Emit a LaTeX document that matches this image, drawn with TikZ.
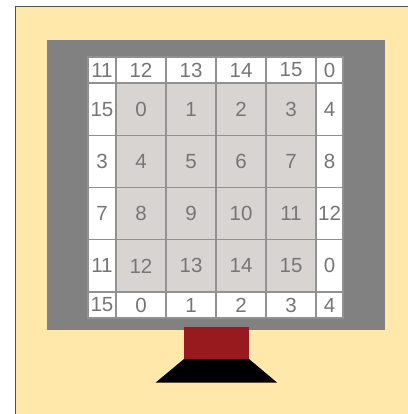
\documentclass[tikz,border=0pt]{standalone}
\usepackage{fontspec}
\setmainfont{Liberation Sans}
\definecolor{bgyellow}{RGB}{255,232,170}
\definecolor{framegray}{RGB}{128,129,128}
\definecolor{cellgray}{RGB}{216,212,210}
\definecolor{gridline}{RGB}{145,145,145}
\definecolor{digit}{RGB}{118,118,118}
\definecolor{standred}{RGB}{152,26,30}
\definecolor{edgegray}{RGB}{80,80,80}
\begin{document}
\begin{tikzpicture}[x=1pt,y=-1pt,
  cellbox/.style={draw=gridline, line width=1.2pt, inner sep=0pt, text=digit,
    font=\fontsize{20.5}{21}\selectfont},
  innercell/.style={cellbox, fill=cellgray},
  outercell/.style={cellbox, fill=white}]
\useasboundingbox (0,0) rectangle (407,414);
\fill[white] (0,0) rectangle (407,414);
\fill[bgyellow] (15,7) rectangle (410,417);
\draw[edgegray, line width=1pt] (15,416) -- (15,7) -- (409,7);
\fill[framegray] (47,40) rectangle (385,330);
\def\xs{{88,116,166,216,266,316,343}}
\def\ys{{57,83,135.25,187.5,239.75,292,318}}
\foreach \r in {0,...,5}{
  \foreach \c in {0,...,5}{
    \pgfmathsetmacro\xa{\xs[\c]}
    \pgfmathsetmacro\xb{\xs[\c+1]}
    \pgfmathsetmacro\ya{\ys[\r]}
    \pgfmathsetmacro\yb{\ys[\r+1]}
    \pgfmathtruncatemacro\lab{mod(4*(\r-1)+(\c-1)+32,16)}
    \pgfmathtruncatemacro\inner{(\r>0)&&(\r<5)&&(\c>0)&&(\c<5)}
    \ifnum\inner=1
      \node[innercell, minimum width={(\xb-\xa)*1pt}, minimum height={(\yb-\ya)*1pt}]
        (cell-\r-\c) at ({(\xa+\xb)/2},{(\ya+\yb)/2}) {\lab};
    \else
      \node[outercell, minimum width={(\xb-\xa)*1pt}, minimum height={(\yb-\ya)*1pt}]
        (cell-\r-\c) at ({(\xa+\xb)/2},{(\ya+\yb)/2}) {\lab};
    \fi
  }
}
\fill[standred] (184,327) rectangle (249,359.5);
\fill[black] (184,359) -- (249,359) -- (277,382.5) -- (155.7,382.5) -- cycle;
\end{tikzpicture}
\end{document}
